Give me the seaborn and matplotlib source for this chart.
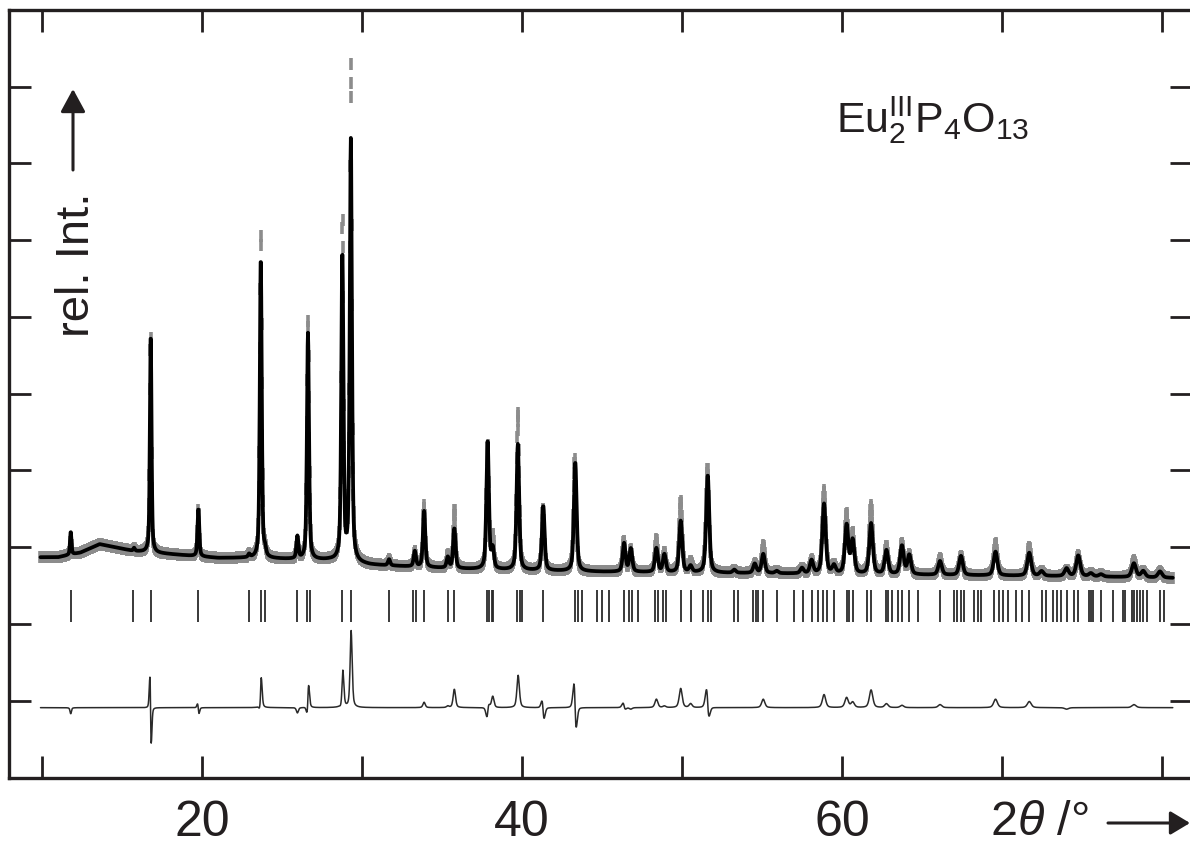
import numpy as np
import matplotlib
matplotlib.use("Agg")
import matplotlib.pyplot as plt
import seaborn as sns

# background knots (2theta, rel. intensity)
bg_x = [9.9, 11.0, 12.4, 13.6, 15.7, 17.4, 21.0, 23.0, 26.0, 28.0, 30.5, 32.6,
        36.0, 40.0, 45.0, 50.0, 55.0, 60.0, 65.0, 70.0, 75.0, 80.7]
bg_y = [2.87, 2.87, 2.93, 3.04, 2.95, 2.92, 2.86, 2.86, 2.84, 2.83, 2.77, 2.75,
        2.72, 2.70, 2.68, 2.67, 2.66, 2.65, 2.64, 2.63, 2.62, 2.60]

# peak list
peak_pos = [11.79, 15.75, 16.79, 19.77, 22.94, 23.67, 23.94, 25.96, 26.62, 28.77,
            29.30, 31.69, 33.30, 33.88, 35.36, 35.77, 37.85, 38.17, 39.74, 41.33,
            43.33, 46.38, 46.80, 48.40, 48.90, 49.92, 50.54, 51.61, 53.27, 54.55,
            55.08, 55.92, 57.50, 58.10, 58.88, 59.50, 60.29, 60.67, 61.82, 62.78,
            63.75, 64.21, 66.13, 67.44, 69.60, 71.71, 72.48, 74.04, 74.77, 75.56,
            76.19, 78.25, 78.83, 79.88]
calc_h = [0.30, 0.04, 2.85, 0.62, 0.04, 3.92, 0.08, 0.29, 2.95, 3.99,
          5.49, 0.08, 0.20, 0.73, 0.14, 0.52, 1.67, 0.25, 1.64, 0.84,
          1.42, 0.37, 0.30, 0.31, 0.23, 0.67, 0.08, 1.27, 0.04, 0.12,
          0.25, 0.03, 0.07, 0.17, 0.91, 0.10, 0.63, 0.43, 0.66, 0.31,
          0.37, 0.25, 0.18, 0.25, 0.31, 0.30, 0.06, 0.10, 0.27, 0.04,
          0.03, 0.18, 0.08, 0.08]
obs_h = [0.22, 0.04, 2.80, 0.60, 0.04, 4.22, 0.08, 0.22, 3.12, 4.40,
         6.45, 0.08, 0.20, 0.80, 0.16, 0.76, 1.60, 0.40, 2.05, 0.80,
         1.46, 0.40, 0.28, 0.42, 0.25, 0.92, 0.13, 1.36, 0.04, 0.12,
         0.36, 0.03, 0.07, 0.17, 1.08, 0.10, 0.76, 0.50, 0.89, 0.36,
         0.40, 0.25, 0.22, 0.25, 0.42, 0.38, 0.06, 0.08, 0.27, 0.04,
         0.03, 0.22, 0.08, 0.08]
obs_shift = [0.0, 0.0, -0.014, -0.01, 0.0, 0.004, 0.0, 0.0, 0.006, 0.004,
             0.003, 0.0, 0.0, 0.0, 0.0, 0.0, 0.006, 0.0, 0.004, -0.02,
             -0.03, -0.015, 0.0, 0.0, 0.0, 0.0, 0.0, -0.022, 0.0, 0.0,
             0.0, 0.0, 0.0, 0.0, 0.0, 0.0, 0.0, 0.0, 0.0, 0.0,
             0.0, 0.0, 0.0, 0.0, 0.0, 0.0, 0.0, 0.0, 0.0, 0.0,
             0.0, 0.0, 0.0, 0.0]

# Bragg reflection positions
refl_pos = [11.79, 15.71, 16.79, 19.77, 22.94, 23.67, 23.94, 25.96, 26.58, 26.75,
            28.77, 29.29, 31.69, 33.17, 33.38, 33.88, 35.36, 35.77, 37.79, 37.94,
            38.10, 38.20, 39.71, 39.88, 40.02, 41.33, 43.31, 43.48, 43.73, 44.67,
            44.98, 45.46, 46.38, 46.69, 46.90, 47.27, 48.31, 48.52, 48.83, 48.98,
            49.92, 50.54, 51.29, 51.61, 51.81, 53.27, 53.48, 54.46, 54.61, 54.77,
            55.08, 55.92, 57.02, 57.54, 58.10, 58.48, 58.79, 59.04, 59.50, 60.29,
            60.46, 60.67, 61.54, 61.79, 62.73, 62.86, 63.14, 63.48, 63.75, 64.21,
            64.77, 66.13, 67.02, 67.17, 67.44, 67.65, 68.25, 68.48, 68.69, 69.50,
            69.83, 70.08, 70.39, 70.88, 71.23, 71.71, 72.48, 72.75, 73.17, 73.42,
            73.67, 74.04, 74.50, 74.77, 75.44, 75.56, 75.71, 76.19, 76.92, 77.54,
            77.69, 78.10, 78.25, 78.42, 78.63, 78.83, 79.04, 79.88, 80.13]

x_ticks = [10, 20, 30, 40, 50, 60, 70, 80]
x_tick_labels = ["", "20", "", "40", "", "60", "", ""]
diff_offset = 0.91


def profile(x, positions, heights, shifts):
    # pseudo-Voigt peaks on top of the background
    y = np.interp(x, bg_x, bg_y)
    for p, h, s in zip(positions, heights, shifts):
        w = 0.10 + 0.003 * (p - 10)
        u = (x - p - s) / w
        y = y + h * (0.5 * np.exp(-4 * np.log(2) * u ** 2) + 0.5 / (1 + 4 * u ** 2))
    return y


two_theta = np.arange(9.9, 80.7, 0.02)
y_calc = profile(two_theta, peak_pos, calc_h, [0.0] * len(peak_pos))
y_obs = profile(two_theta, peak_pos, obs_h, obs_shift)
y_diff = y_obs - y_calc + diff_offset

sns.set_style("ticks")
plt.rcParams["font.family"] = ["Liberation Sans", "DejaVu Sans"]
plt.rcParams["mathtext.fontset"] = "custom"
plt.rcParams["mathtext.rm"] = "Liberation Sans"
plt.rcParams["mathtext.it"] = "Liberation Sans:italic"

ink = "#231f20"
fig = plt.figure(figsize=(11.9, 8.47), dpi=100)
ax = fig.add_axes([8.5 / 1190, 69.5 / 847, 1183 / 1190, 767.5 / 847])

# observed points as short grey dashes, calculated curve on top
sns.lineplot(x=two_theta, y=y_obs, ax=ax, color="#8c8c8c", linestyle="none",
             marker="|", markersize=8, markeredgewidth=2.6,
             markeredgecolor="#8c8c8c",
             estimator=None, sort=False, errorbar=None)
sns.lineplot(x=two_theta, y=y_calc, ax=ax, color="black", linewidth=2.7,
             estimator=None, sort=False, errorbar=None)
sns.lineplot(x=two_theta, y=y_diff, ax=ax, color="#2a2a2a", linewidth=1.1,
             estimator=None, sort=False, errorbar=None)
ax.vlines(refl_pos, 2.03, 2.44, color="#2a2a2a", linewidth=1.3)

ax.set_xlim(7.9, 81.85)
ax.set_ylim(0, 10)
ax.set_xticks(x_ticks)
ax.set_xticklabels(x_tick_labels)
ax.set_yticks(range(1, 10))
ax.set_yticklabels([])
ax.set_xlabel("")
ax.set_ylabel("")
ax.tick_params(direction="in", length=16, width=2, top=True, right=True,
               color=ink, labelcolor=ink, labelsize=36, pad=16)
for sp in ax.spines.values():
    sp.set_visible(True)
    sp.set_linewidth(2.4)
    sp.set_color(ink)

# axis captions with arrows
fig.text(77 / 1190, 582 / 847, "rel. Int.", rotation=90, ha="center", va="center",
         fontsize=34, color=ink)
ax.annotate("", xy=(73, 758), xytext=(73, 677), xycoords="figure pixels",
            textcoords="figure pixels",
            arrowprops=dict(arrowstyle="-|>,head_length=0.7,head_width=0.38",
                            mutation_scale=20, color=ink, lw=2.2,
                            shrinkA=0, shrinkB=0))
fig.text(990 / 1190, 12 / 847, r"2$\theta$ /°", ha="left", va="baseline",
         fontsize=35, color=ink)
ax.annotate("", xy=(1190, 24), xytext=(1108, 24), xycoords="figure pixels",
            textcoords="figure pixels",
            arrowprops=dict(arrowstyle="-|>,head_length=0.6,head_width=0.36",
                            mutation_scale=20, color=ink, lw=2.2,
                            shrinkA=0, shrinkB=0))

fig.text(836 / 1190, 714 / 847, r"Eu$_2^{\mathrm{III}}$P$_4$O$_{13}$",
         ha="left", va="baseline", fontsize=31, color=ink)

fig.savefig("out.png", dpi=100)
